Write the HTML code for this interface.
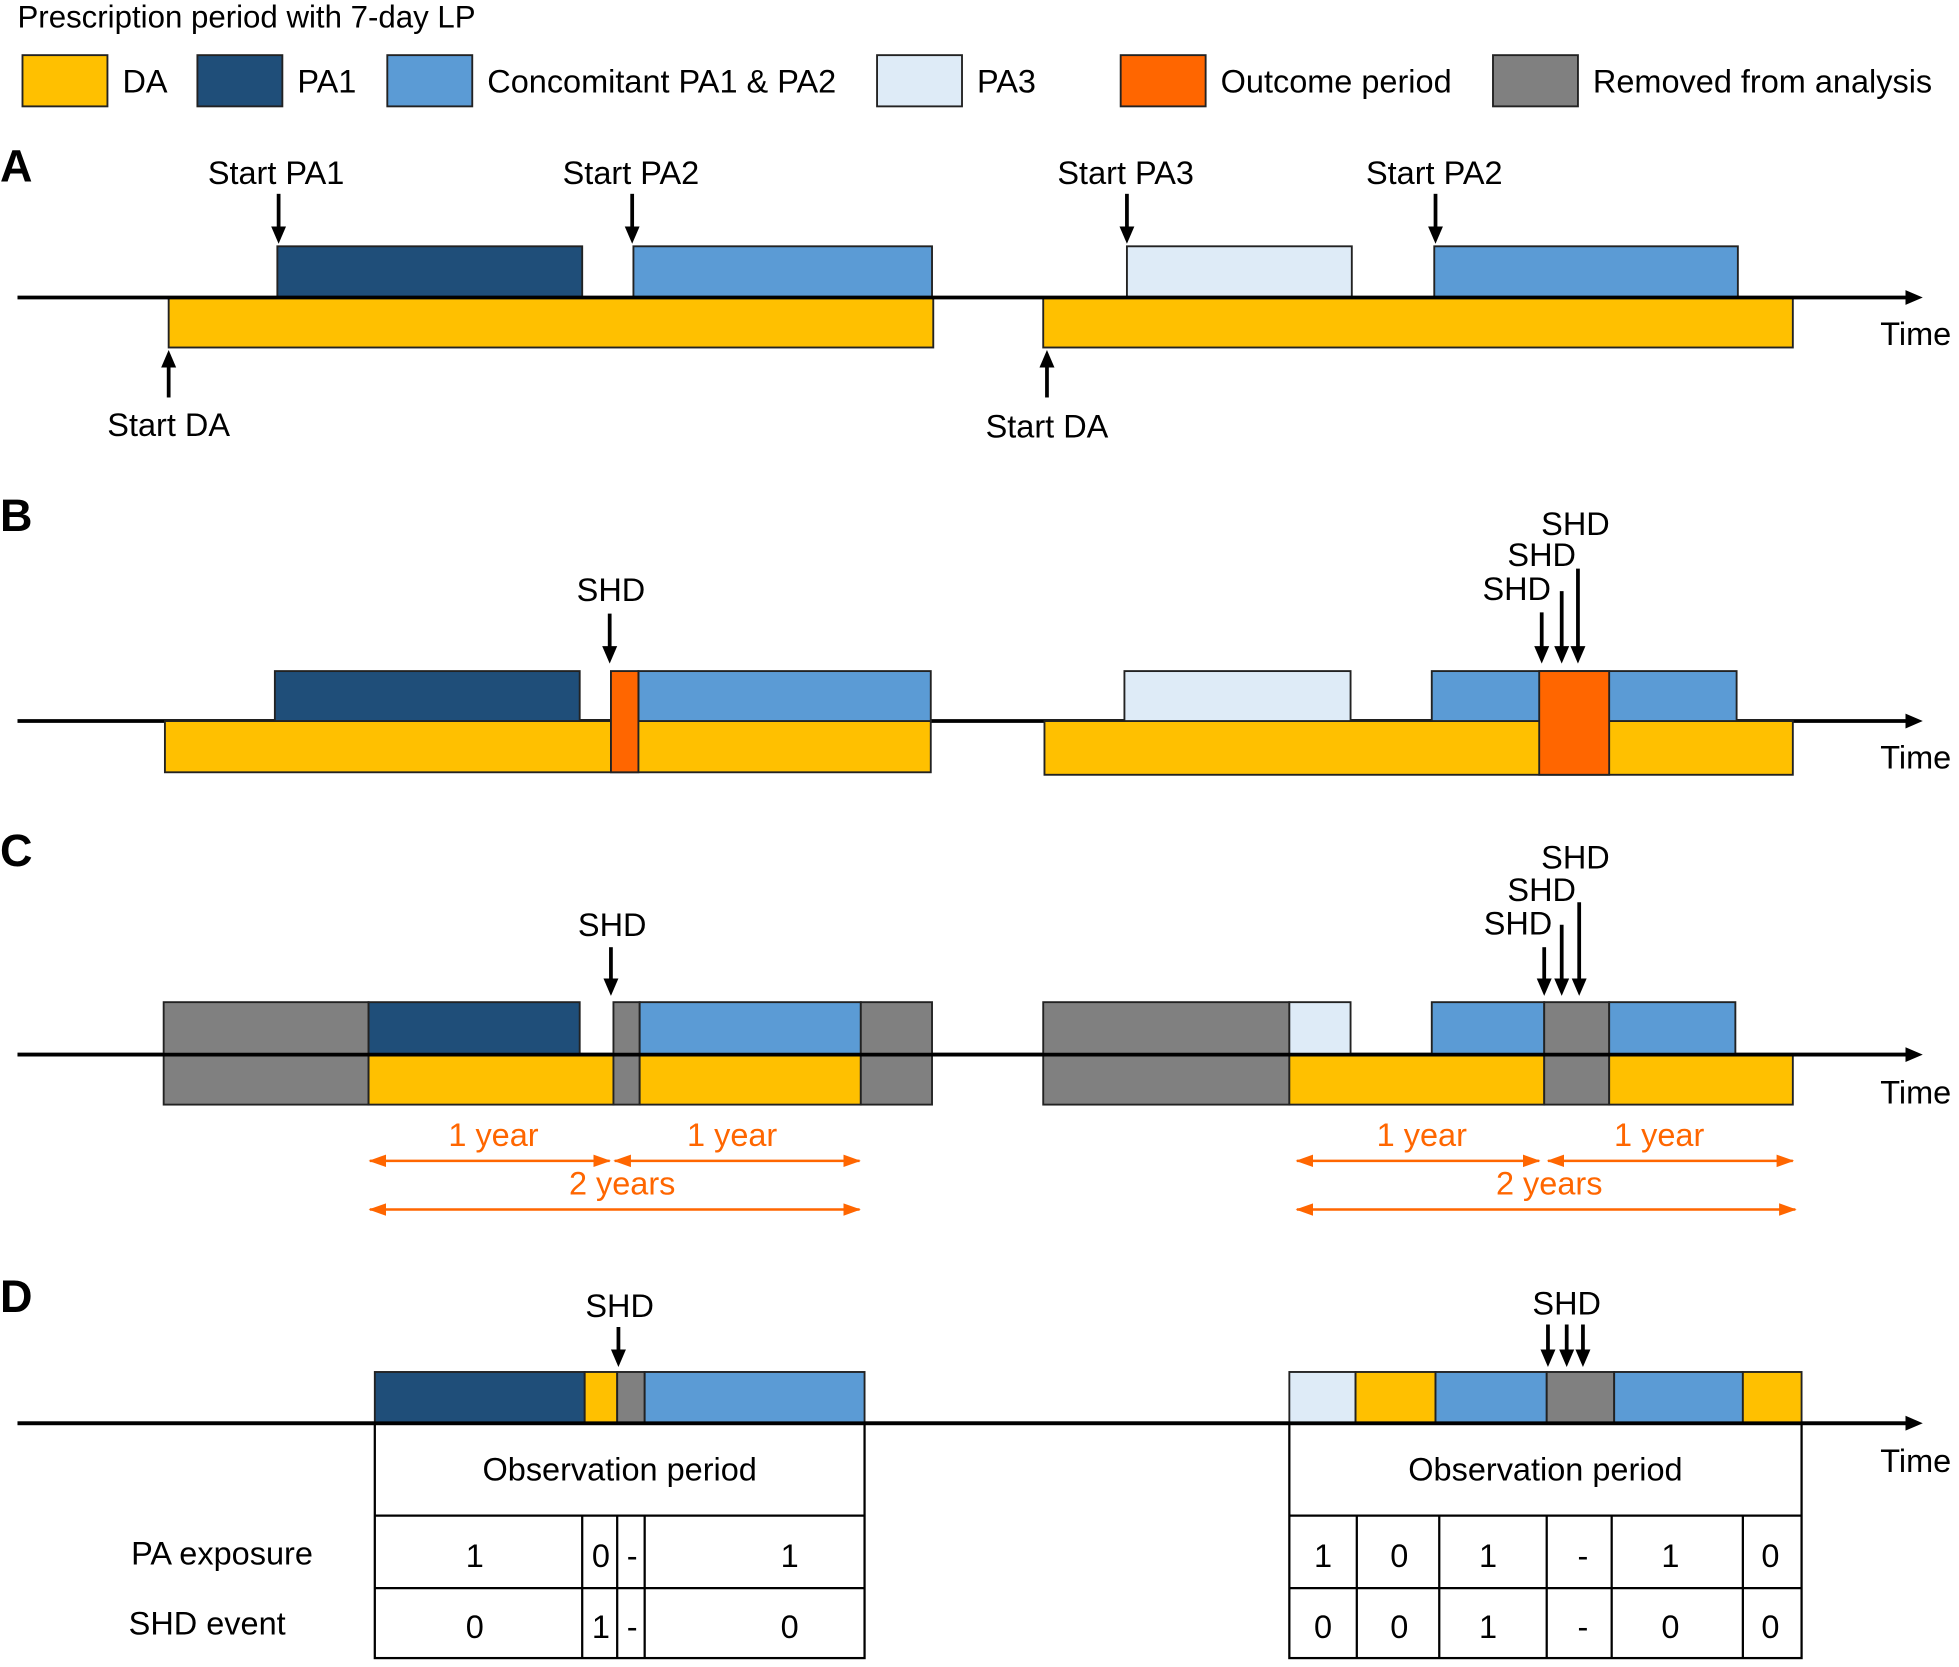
<!DOCTYPE html>
<html><head><meta charset="utf-8"><style>
html,body{margin:0;padding:0;background:#fff;}
svg{display:block;}
text{font-family:"Liberation Sans",Arial,sans-serif;fill:#000;}
</style></head><body>
<svg width="1959" height="1667" viewBox="0 0 1568 1334" xmlns="http://www.w3.org/2000/svg">
<defs>
<marker id="ah" markerWidth="14" markerHeight="14" refX="7" refY="7" orient="auto" markerUnits="userSpaceOnUse" viewBox="0 0 14 14"><path d="M0,1 L14,7 L0,13 z" fill="#000"/></marker>
<marker id="oa" markerWidth="14" markerHeight="12" refX="13" refY="6" orient="auto-start-reverse" markerUnits="userSpaceOnUse"><path d="M0,1 L14,6 L0,11 z" fill="#FF6600"/></marker>
</defs>
<g stroke="#222" stroke-width="1.5">
<rect x="18" y="44" width="68" height="41" fill="#FFC000"/>
<rect x="158" y="44" width="68" height="41" fill="#1F4E79"/>
<rect x="310" y="44" width="68" height="41" fill="#5B9BD5"/>
<rect x="702" y="44" width="68" height="41" fill="#DEEBF7"/>
<rect x="897" y="44" width="68" height="41" fill="#FF6600"/>
<rect x="1195" y="44" width="68" height="41" fill="#808080"/>
</g>
<g font-size="26">
<text x="14" y="22" font-size="25">Prescription period with 7-day LP</text>
<text x="98" y="74">DA</text><text x="238" y="74">PA1</text><text x="390" y="74">Concomitant PA1 &amp; PA2</text>
<text x="782" y="74">PA3</text><text x="977" y="74">Outcome period</text><text x="1275" y="74">Removed from analysis</text>
</g>
<g font-size="36" font-weight="bold"><text x="0" y="145">A</text><text x="0" y="425">B</text><text x="0" y="693">C</text><text x="0" y="1050">D</text></g>
<g font-size="26"><text x="1505" y="276">Time</text><text x="1505" y="615">Time</text><text x="1505" y="883">Time</text><text x="1505" y="1178">Time</text></g>

<g stroke="#222" stroke-width="1.5">
<rect x="135" y="238" width="612" height="40" fill="#FFC000"/>
<rect x="222" y="197" width="244" height="41" fill="#1F4E79"/>
<rect x="507" y="197" width="239" height="41" fill="#5B9BD5"/>
<rect x="835" y="238" width="600" height="40" fill="#FFC000"/>
<rect x="902" y="197" width="180" height="41" fill="#DEEBF7"/>
<rect x="1148" y="197" width="243" height="41" fill="#5B9BD5"/>
</g>
<g stroke="#000" stroke-width="3" fill="none">
<line x1="14" y1="238" x2="1532" y2="238" marker-end="url(#ah)"/>
<line x1="14" y1="577" x2="1532" y2="577" marker-end="url(#ah)"/>
<line x1="14" y1="844" x2="1532" y2="844" marker-end="url(#ah)"/>
<line x1="14" y1="1139" x2="1532" y2="1139" marker-end="url(#ah)"/>
<line x1="223" y1="155" x2="223" y2="188" marker-end="url(#ah)"/>
<line x1="506" y1="155" x2="506" y2="188" marker-end="url(#ah)"/>
<line x1="902" y1="155" x2="902" y2="188" marker-end="url(#ah)"/>
<line x1="1149" y1="155" x2="1149" y2="188" marker-end="url(#ah)"/>
<line x1="135" y1="318" x2="135" y2="287" marker-end="url(#ah)"/>
<line x1="838" y1="318" x2="838" y2="287" marker-end="url(#ah)"/>
</g>
<g font-size="26" text-anchor="middle">
<text x="221" y="147">Start PA1</text><text x="505" y="147">Start PA2</text><text x="901" y="147">Start PA3</text><text x="1148" y="147">Start PA2</text>
<text x="135" y="349">Start DA</text><text x="838" y="350">Start DA</text>
</g>

<g stroke="#222" stroke-width="1.5">
<rect x="132" y="577" width="613" height="41" fill="#FFC000"/>
<rect x="220" y="537" width="244" height="40" fill="#1F4E79"/>
<rect x="511" y="537" width="234" height="40" fill="#5B9BD5"/>
<rect x="489" y="537" width="22" height="81" fill="#FF6600"/>
<rect x="836" y="577" width="599" height="43" fill="#FFC000"/>
<rect x="900" y="537" width="181" height="40" fill="#DEEBF7"/>
<rect x="1146" y="537" width="244" height="40" fill="#5B9BD5"/>
<rect x="1232" y="537" width="56" height="83" fill="#FF6600"/>
</g>
<g stroke="#000" stroke-width="3">
<line x1="488" y1="491" x2="488" y2="524" marker-end="url(#ah)"/>
<line x1="1234" y1="490" x2="1234" y2="524" marker-end="url(#ah)"/>
<line x1="1250" y1="473" x2="1250" y2="524" marker-end="url(#ah)"/>
<line x1="1263" y1="455" x2="1263" y2="524" marker-end="url(#ah)"/>
</g>
<g font-size="26" text-anchor="middle">
<text x="489" y="481">SHD</text><text x="1214" y="480">SHD</text><text x="1234" y="453">SHD</text><text x="1261" y="428">SHD</text>
</g>

<g stroke="#222" stroke-width="1.5">
<rect x="131" y="802" width="164" height="82" fill="#808080"/>
<rect x="295" y="802" width="169" height="42" fill="#1F4E79"/>
<rect x="295" y="844" width="196" height="40" fill="#FFC000"/>
<rect x="491" y="802" width="21" height="82" fill="#808080"/>
<rect x="512" y="802" width="177" height="42" fill="#5B9BD5"/>
<rect x="512" y="844" width="177" height="40" fill="#FFC000"/>
<rect x="689" y="802" width="57" height="82" fill="#808080"/>
<rect x="835" y="802" width="197" height="82" fill="#808080"/>
<rect x="1032" y="802" width="49" height="42" fill="#DEEBF7"/>
<rect x="1032" y="844" width="204" height="40" fill="#FFC000"/>
<rect x="1146" y="802" width="90" height="42" fill="#5B9BD5"/>
<rect x="1236" y="802" width="52" height="82" fill="#808080"/>
<rect x="1288" y="802" width="101" height="42" fill="#5B9BD5"/>
<rect x="1288" y="844" width="147" height="40" fill="#FFC000"/>
</g>
<line x1="14" y1="844" x2="1530" y2="844" stroke="#000" stroke-width="3"/>
<g stroke="#000" stroke-width="3">
<line x1="489" y1="758" x2="489" y2="790" marker-end="url(#ah)"/>
<line x1="1236" y1="758" x2="1236" y2="790" marker-end="url(#ah)"/>
<line x1="1250" y1="740" x2="1250" y2="790" marker-end="url(#ah)"/>
<line x1="1264" y1="722" x2="1264" y2="790" marker-end="url(#ah)"/>
</g>
<g font-size="26" text-anchor="middle">
<text x="490" y="749">SHD</text><text x="1215" y="748">SHD</text><text x="1234" y="721">SHD</text><text x="1261" y="695">SHD</text>
</g>
<g stroke="#FF6600" stroke-width="2">
<line x1="296" y1="929" x2="488" y2="929" marker-start="url(#oa)" marker-end="url(#oa)"/>
<line x1="492" y1="929" x2="688" y2="929" marker-start="url(#oa)" marker-end="url(#oa)"/>
<line x1="296" y1="968" x2="688" y2="968" marker-start="url(#oa)" marker-end="url(#oa)"/>
<line x1="1038" y1="929" x2="1232" y2="929" marker-start="url(#oa)" marker-end="url(#oa)"/>
<line x1="1239" y1="929" x2="1435" y2="929" marker-start="url(#oa)" marker-end="url(#oa)"/>
<line x1="1038" y1="968" x2="1437" y2="968" marker-start="url(#oa)" marker-end="url(#oa)"/>
</g>
<g font-size="26" text-anchor="middle">
<text x="395" y="917" style="fill:#FF6600">1 year</text><text x="586" y="917" style="fill:#FF6600">1 year</text><text x="498" y="956" style="fill:#FF6600">2 years</text>
<text x="1138" y="917" style="fill:#FF6600">1 year</text><text x="1328" y="917" style="fill:#FF6600">1 year</text><text x="1240" y="956" style="fill:#FF6600">2 years</text>
</g>

<g stroke="#222" stroke-width="1.5">
<rect x="300" y="1098" width="168" height="41" fill="#1F4E79"/>
<rect x="468" y="1098" width="26" height="41" fill="#FFC000"/>
<rect x="494" y="1098" width="22" height="41" fill="#808080"/>
<rect x="516" y="1098" width="176" height="41" fill="#5B9BD5"/>
<rect x="1032" y="1098" width="53" height="41" fill="#DEEBF7"/>
<rect x="1085" y="1098" width="64" height="41" fill="#FFC000"/>
<rect x="1149" y="1098" width="89" height="41" fill="#5B9BD5"/>
<rect x="1238" y="1098" width="54" height="41" fill="#808080"/>
<rect x="1292" y="1098" width="103" height="41" fill="#5B9BD5"/>
<rect x="1395" y="1098" width="47" height="41" fill="#FFC000"/>
</g>
<g stroke="#000" stroke-width="3">
<line x1="495" y1="1062" x2="495" y2="1087" marker-end="url(#ah)"/>
<line x1="1239" y1="1060" x2="1239" y2="1087" marker-end="url(#ah)"/>
<line x1="1254" y1="1060" x2="1254" y2="1087" marker-end="url(#ah)"/>
<line x1="1267" y1="1060" x2="1267" y2="1087" marker-end="url(#ah)"/>
</g>
<g font-size="26" text-anchor="middle"><text x="496" y="1054">SHD</text><text x="1254" y="1052">SHD</text></g>
<line x1="14" y1="1139" x2="1530" y2="1139" stroke="#000" stroke-width="3"/>
<g stroke="#000" stroke-width="1.8" fill="none">
<rect x="300" y="1139" width="392" height="188"/>
<line x1="300" y1="1213" x2="692" y2="1213"/><line x1="300" y1="1271" x2="692" y2="1271"/>
<line x1="466" y1="1213" x2="466" y2="1327"/><line x1="494" y1="1213" x2="494" y2="1327"/><line x1="516" y1="1213" x2="516" y2="1327"/>
<rect x="1032" y="1139" width="410" height="188"/>
<line x1="1032" y1="1213" x2="1442" y2="1213"/><line x1="1032" y1="1271" x2="1442" y2="1271"/>
<line x1="1086" y1="1213" x2="1086" y2="1327"/><line x1="1152" y1="1213" x2="1152" y2="1327"/><line x1="1238" y1="1213" x2="1238" y2="1327"/><line x1="1290" y1="1213" x2="1290" y2="1327"/><line x1="1395" y1="1213" x2="1395" y2="1327"/>
</g>
<g font-size="26" text-anchor="middle">
<text x="496" y="1185">Observation period</text><text x="1237" y="1185">Observation period</text>
<text x="380" y="1254">1</text><text x="481" y="1254">0</text><text x="506" y="1254">-</text><text x="632" y="1254">1</text>
<text x="380" y="1311">0</text><text x="481" y="1311">1</text><text x="506" y="1311">-</text><text x="632" y="1311">0</text>
<text x="1059" y="1254">1</text><text x="1120" y="1254">0</text><text x="1191" y="1254">1</text><text x="1267" y="1254">-</text><text x="1337" y="1254">1</text><text x="1417" y="1254">0</text>
<text x="1059" y="1311">0</text><text x="1120" y="1311">0</text><text x="1191" y="1311">1</text><text x="1267" y="1311">-</text><text x="1337" y="1311">0</text><text x="1417" y="1311">0</text>
</g>
<g font-size="26"><text x="105" y="1252">PA exposure</text><text x="103" y="1308">SHD event</text></g>
</svg>
</body></html>
